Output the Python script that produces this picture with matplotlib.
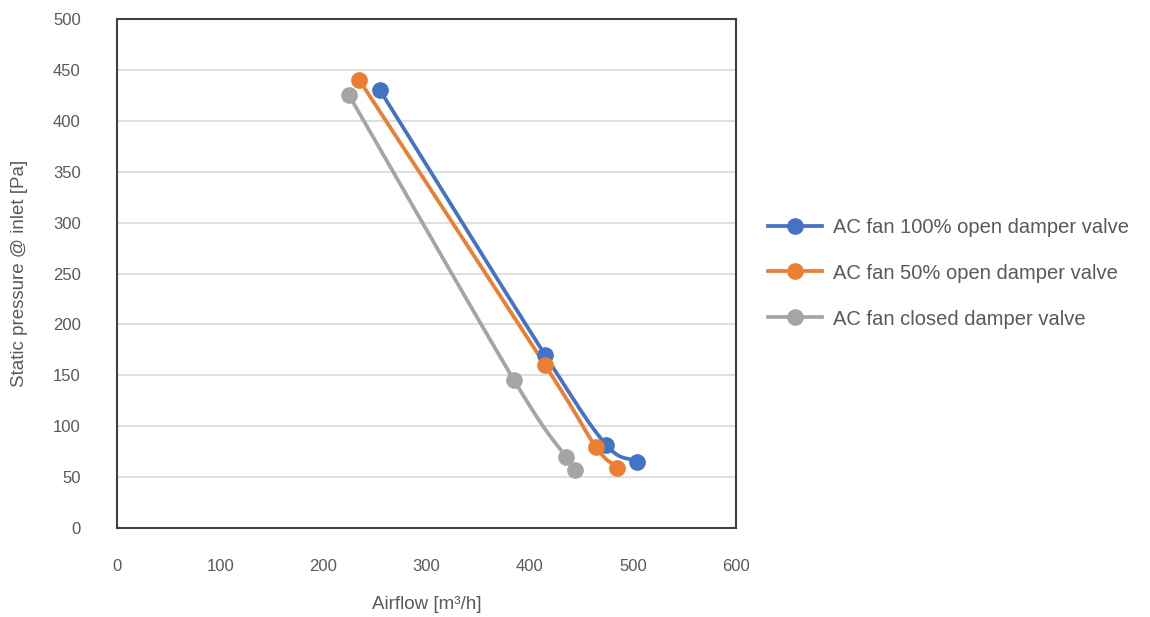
import numpy as np
import matplotlib
matplotlib.use("Agg")
import matplotlib.pyplot as plt

# data
airflow_100 = [255, 415, 474, 504]
pressure_100 = [430, 170, 82, 65]
airflow_50 = [235, 415, 464, 485]
pressure_50 = [440, 160, 80, 59]
airflow_closed = [225, 385, 435, 444]
pressure_closed = [425, 145, 70, 57]

labels = ["AC fan 100% open damper valve",
          "AC fan 50% open damper valve",
          "AC fan closed damper valve"]
colors = ["#4472C4", "#ED7D31", "#A5A5A5"]

x_ticks = [0, 100, 200, 300, 400, 500, 600]
y_ticks = [0, 50, 100, 150, 200, 250, 300, 350, 400, 450, 500]


def smooth(xs, ys, n=30):
    # Catmull-Rom curve through the points, like Excel's "smoothed line"
    p = np.column_stack([xs, ys]).astype(float)
    p = np.vstack([2 * p[0] - p[1], p, 2 * p[-1] - p[-2]])
    out = []
    for i in range(1, len(p) - 2):
        p0, p1, p2, p3 = p[i - 1], p[i], p[i + 1], p[i + 2]
        t = np.linspace(0, 1, n)[:, None]
        seg = 0.5 * ((2 * p1) + (-p0 + p2) * t + (2 * p0 - 5 * p1 + 4 * p2 - p3) * t ** 2
                     + (-p0 + 3 * p1 - 3 * p2 + p3) * t ** 3)
        out.append(seg)
    out = np.vstack(out)
    return out[:, 0], out[:, 1]


plt.rcParams['font.family'] = ['Liberation Sans', 'DejaVu Sans']
txt = "#595959"

fig = plt.figure(figsize=(11.5, 6.17), dpi=100)
ax = fig.add_axes([0.1017, 0.1443, 0.5383, 0.8247])

series = [(airflow_100, pressure_100), (airflow_50, pressure_50), (airflow_closed, pressure_closed)]
for (xs, ys), lab, c in zip(series, labels, colors):
    sx, sy = smooth(xs, ys)
    ax.plot(sx, sy, color=c, lw=2.7, solid_capstyle="round", zorder=3)
    ax.plot(xs, ys, "o", color=c, ms=11, zorder=4)
    ax.plot([], [], "-o", color=c, lw=2.7, ms=11, label=lab)

ax.set_xlim(0, 600)
ax.set_ylim(0, 500)
ax.set_xticks(x_ticks)
ax.set_yticks(y_ticks)
ax.yaxis.grid(True, color="#d9d9d9", lw=1.2)
ax.set_axisbelow(True)
ax.tick_params(length=0, labelsize=12, labelcolor=txt)
ax.tick_params(axis="y", pad=26)
ax.tick_params(axis="x", pad=22)
for s in ax.spines.values():
    s.set_color("#404040")
    s.set_linewidth(1.5)

ax.set_xlabel("Airflow [m³/h]", fontsize=13.5, color=txt, labelpad=16)
ax.set_ylabel("Static pressure @ inlet [Pa]", fontsize=13.5, color=txt, labelpad=18)

ax.legend(loc="center left", bbox_to_anchor=(1.022, 0.501), frameon=False,
          fontsize=14.5, labelcolor=txt, handlelength=2.7, labelspacing=1.34,
          handletextpad=0.55)

fig.savefig("out.png", dpi=100)
